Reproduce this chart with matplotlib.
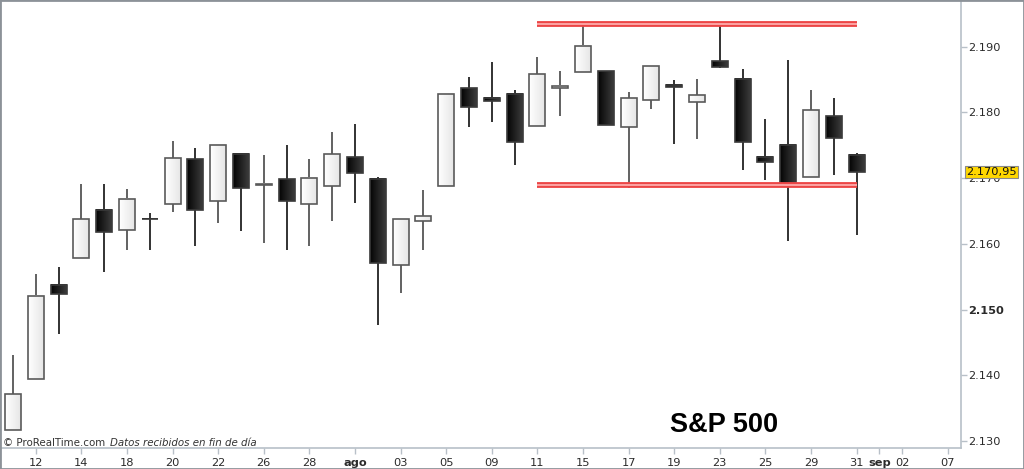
import numpy as np
import matplotlib
matplotlib.use("Agg")
import matplotlib.pyplot as plt
from matplotlib.patches import Rectangle
from matplotlib.colors import LinearSegmentedColormap

# Data: S&P 500 daily candles, 11 Jul - 31 Aug 2016

days = ["11", "12", "13", "14", "15", "18", "19", "20", "21", "22",
        "25", "26", "27", "28", "29",
        "01", "02", "03", "04", "05", "08", "09", "10", "11", "12",
        "15", "16", "17", "18", "19", "22", "23", "24", "25", "26",
        "29", "30", "31"]
opens = [2131.72, 2139.50, 2153.81, 2157.88, 2165.13, 2162.04, 2163.79, 2166.10, 2172.91, 2166.47,
         2173.71, 2168.97, 2169.81, 2166.05, 2168.83,
         2173.15, 2169.94, 2156.81, 2163.51, 2168.79, 2183.76, 2182.24, 2182.81, 2177.97, 2183.74,
         2186.08, 2186.24, 2177.84, 2181.90, 2184.24, 2181.58, 2187.81, 2185.09, 2173.29, 2175.10,
         2170.19, 2179.45, 2173.56]
highs = [2143.16, 2155.40, 2156.45, 2169.05, 2169.05, 2168.35, 2164.63, 2175.63, 2174.56, 2175.11,
         2173.71, 2173.54, 2174.98, 2172.85, 2177.09,
         2178.29, 2170.20, 2163.79, 2168.19, 2182.87, 2185.44, 2187.66, 2183.41, 2188.45, 2186.28,
         2193.81, 2186.24, 2183.08, 2187.03, 2185.00, 2185.15, 2193.42, 2186.66, 2179.00, 2187.94,
         2183.48, 2182.27, 2173.79]
lows = [2131.72, 2139.50, 2146.21, 2157.88, 2155.79, 2159.07, 2159.01, 2164.89, 2159.75, 2163.24,
        2161.95, 2160.18, 2159.07, 2159.74, 2163.49,
        2166.21, 2147.58, 2152.56, 2159.07, 2168.79, 2177.85, 2178.61, 2172.00, 2177.97, 2179.42,
        2186.08, 2178.14, 2168.50, 2180.46, 2175.13, 2175.96, 2186.80, 2171.25, 2169.74, 2160.39,
        2170.19, 2170.41, 2161.35]
closes = [2137.16, 2152.14, 2152.43, 2163.75, 2161.74, 2166.89, 2163.78, 2173.02, 2165.17, 2175.03,
          2168.48, 2169.18, 2166.58, 2170.06, 2173.60,
          2170.84, 2157.03, 2163.79, 2164.25, 2182.87, 2180.89, 2181.74, 2175.49, 2185.79, 2184.05,
          2190.15, 2178.15, 2182.22, 2187.02, 2183.87, 2182.64, 2186.90, 2175.44, 2172.47, 2169.04,
          2180.38, 2176.12, 2170.95]

# x axis labels (trading-day index -> label)
tick_idx = [1, 3, 5, 7, 9, 11, 13, 15, 17, 19, 21, 23, 25, 27, 29, 31, 33, 35, 37, 38, 39, 41]
tick_lab = ["12", "14", "18", "20", "22", "26", "28", "ago", "03", "05", "09", "11",
            "15", "17", "19", "23", "25", "29", "31", "sep", "02", "07"]

y_ticks = [2130, 2140, 2150, 2160, 2170, 2180, 2190]
y_labels = ["2.130", "2.140", "2.150", "2.160", "2.170", "2.180", "2.190"]

# support / resistance levels drawn from 11 Aug to 31 Aug
resist = 2193.45
support = 2168.9
level_start, level_end = 23, 37
last_label = "2.170,95"

# Plot

W, H = 1024, 469
fig = plt.figure(figsize=(W/100, H/100), dpi=100)
ax = fig.add_axes([1/W, (H-448.3)/H, 960/W, 447.3/H])

axis_col = "#b8c0c8"
txt_col = "#2a2a2a"

cmap_up = LinearSegmentedColormap.from_list("up", ["#ffffff", "#e6e6e6"])
cmap_dn = LinearSegmentedColormap.from_list("dn", ["#050505", "#3c3c3c"])
grad = np.linspace(0, 1, 32).reshape(1, -1)

bw = 0.35
for i in range(len(opens)):
    o, h, l, c = opens[i], highs[i], lows[i], closes[i]
    up = c >= o
    ax.vlines(i, l, h, color="#555555" if up else "#222222", lw=1.3, zorder=1)
    lo, hi = min(o, c), max(o, c)
    ax.imshow(grad, extent=[i-bw, i+bw, lo, hi], aspect="auto",
              cmap=cmap_up if up else cmap_dn, zorder=2, interpolation="bilinear")
    ax.add_patch(Rectangle((i-bw, lo), 2*bw, hi-lo, fill=False,
                           ec="#5a5a5a" if up else "#3a3a3a", lw=1.2, zorder=3))

for lvl in (resist, support):
    ax.plot([level_start, level_end], [lvl, lvl], color="#ec4646", lw=4.2,
            solid_capstyle="butt", zorder=4)
    ax.plot([level_start, level_end], [lvl, lvl], color="#ffb4b4", lw=1.2,
            solid_capstyle="butt", zorder=5)

ax.set_xlim((1-13)/22.8, (961-13)/22.8)
ax.set_ylim(2190 - (448.3-46.7)/6.572, 2190 + (46.7-1)/6.572)

for s in ("top", "left"):
    ax.spines[s].set_visible(False)
for s in ("right", "bottom"):
    ax.spines[s].set_color(axis_col)
    ax.spines[s].set_linewidth(1.2)

ax.yaxis.tick_right()
ax.set_yticks(y_ticks)
ax.set_yticklabels(y_labels)
ax.set_xticks(tick_idx)
ax.set_xticklabels(tick_lab)
ax.tick_params(axis="both", direction="out", length=4, width=1, color=axis_col,
               labelsize=8.2, labelcolor=txt_col, pad=1)
ax.tick_params(axis="x", pad=3)
for t in ax.get_xticklabels():
    if t.get_text() in ("ago", "sep"):
        t.set_fontweight("bold")
for t in ax.get_yticklabels():
    if t.get_text() == "2.150":
        t.set_fontweight("bold")

# last price label
yl = ax.transData.transform((0, closes[-1]))[1] / H
fig.text(966.5/W, yl, last_label, fontsize=8.2, color="#111111", va="center", ha="left",
         bbox=dict(boxstyle="square,pad=0.12", fc="#ffd700", ec="#8a8a8a", lw=0.8), zorder=10)

fig.text(670/W, 1-431.5/H, "S&P 500", fontsize=19.5, fontweight="bold",
         family="Liberation Sans", color="#000000", va="baseline")

fig.text(3/W, 1-442.5/H, "© ProRealTime.com", fontsize=7.4, color="#333333", va="center")
fig.text(110/W, 1-442.5/H, "Datos recibidos en fin de día", fontsize=7.4,
         style="italic", color="#333333", va="center")

fig.add_artist(Rectangle((0, 0), 1, 1, transform=fig.transFigure, fill=False,
                         ec="#8c9298", lw=2.0))

fig.savefig("out.png", dpi=100)
